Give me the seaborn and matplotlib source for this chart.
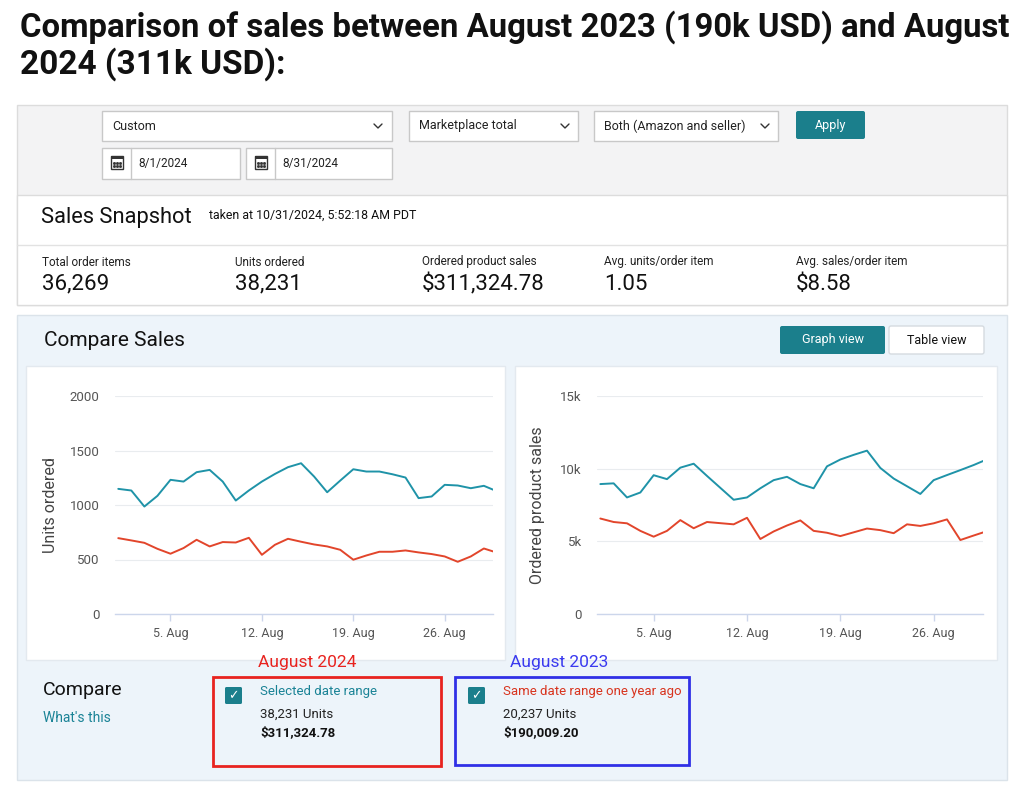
import pandas as pd
import numpy as np
import matplotlib
matplotlib.use("Agg")
import matplotlib.pyplot as plt
import matplotlib.dates as mdates
from matplotlib.patches import Rectangle, FancyBboxPatch
from matplotlib.ticker import FuncFormatter
import seaborn as sns

# data (daily values, 1-30 Aug)
days = pd.date_range("2024-08-01", periods=30, freq="D")
units_2024 = [1148, 1133, 986, 1084, 1231, 1215, 1301, 1322, 1215, 1041,
              1133, 1215, 1285, 1347, 1383, 1261, 1117, 1224, 1328, 1307,
              1307, 1282, 1252, 1063, 1078, 1185, 1179, 1154, 1176, 1126]
units_2023 = [696, 675, 653, 598, 553, 605, 681, 620, 660, 656,
              699, 543, 635, 690, 663, 638, 620, 589, 498, 537,
              571, 571, 583, 565, 550, 528, 479, 528, 601, 563]
sales_2024 = [8940, 8990, 8020, 8360, 9550, 9280, 10070, 10340, 9500, 8680,
              7860, 8020, 8650, 9210, 9440, 8940, 8650, 10160, 10630, 10950,
              11240, 10050, 9320, 8790, 8260, 9210, 9560, 9900, 10250, 10640]
sales_2023 = [6570, 6330, 6240, 5720, 5320, 5720, 6460, 5900, 6330, 6250,
              6170, 6620, 5160, 5680, 6090, 6440, 5720, 5590, 5360, 5620,
              5880, 5770, 5560, 6170, 6060, 6240, 6510, 5090, 5400, 5700]
tick_days = ["2024-08-05", "2024-08-12", "2024-08-19", "2024-08-26"]
tick_labels = ["5. Aug", "12. Aug", "19. Aug", "26. Aug"]
units_ticks = [0, 500, 1000, 1500, 2000]
sales_ticks = [0, 5000, 10000, 15000]

metric_labels = ["Total order items", "Units ordered", "Ordered product sales",
                 "Avg. units/order item", "Avg. sales/order item"]
metric_values = ["36,269", "38,231", "$311,324.78", "1.05", "$8.58"]

TEAL = "#1f93a8"
RED = "#e2452b"
BTN = "#1b7f8c"

sns.set_theme(style="white")
plt.rcParams["font.family"] = ["Roboto", "DejaVu Sans"]

W, H = 1024, 795
fig = plt.figure(figsize=(W / 100, H / 100), dpi=100)
fig.patch.set_facecolor("white")
bg = fig.add_axes([0, 0, 1, 1], zorder=0)
bg.set_xlim(0, W)
bg.set_ylim(H, 0)
bg.axis("off")
renderer = fig.canvas.get_renderer()


def box(x0, y0, x1, y1, fc, ec="none", lw=1.0, r=0, z=1):
    if r:
        p = FancyBboxPatch((x0, y0), x1 - x0, y1 - y0,
                           boxstyle=f"round,pad=0,rounding_size={r}",
                           fc=fc, ec=ec, lw=lw, zorder=z)
    else:
        p = Rectangle((x0, y0), x1 - x0, y1 - y0, fc=fc, ec=ec, lw=lw, zorder=z)
    bg.add_patch(p)


def txt(x, y, s, size, color="#111111", weight="normal", ha="left", fit=None, z=5):
    t = bg.text(x, y, s, fontsize=size, color=color, weight=weight,
                ha=ha, va="center", zorder=z)
    if fit:
        w = t.get_window_extent(renderer).width
        t.set_fontsize(size * fit / w)
    return t


def chevron(x, y):
    bg.plot([x - 4, x, x + 4], [y - 2, y + 2, y - 2], color="#333333", lw=1.0, zorder=5)


def calendar(x, y):
    box(x - 6, y - 6, x + 6, y + 7, "white", "#333333", lw=1.0, z=5)
    box(x - 6, y - 6, x + 6, y - 3, "#333333", z=5)
    for dx in (-3, 0, 3):
        for dy in (1, 4):
            bg.plot(x + dx, y + dy, "s", ms=1.0, color="#333333", zorder=6)


# title
txt(20, 27, "Comparison of sales between August 2023 (190k USD) and August",
    20, weight="bold", fit=985)
txt(20, 64, "2024 (311k USD):", 20, weight="bold", fit=265)

# filter panel + snapshot
box(17, 105, 1007, 305, "#f3f3f4", "#dcdcdc", lw=1.0, z=1)
box(17, 195, 1007, 305, "white", "#dcdcdc", lw=1.0, z=1)
bg.plot([17, 1007], [245, 245], color="#e2e2e2", lw=1.0, zorder=2)

for (x0, x1, label, cx) in [(102, 392, "Custom", 378),
                            (409, 578, "Marketplace total", 565),
                            (594, 778, "Both (Amazon and seller)", 765)]:
    box(x0, 111, x1, 141, "white", "#c8c8c8", lw=1.0, z=2)
    txt(x0 + 10, 126, label, 9, color="#222222")
    chevron(cx, 126)
box(796, 111, 865, 139, BTN, r=2, z=2)
txt(830.5, 125, "Apply", 9, color="white", ha="center")

for (x0, x1, label) in [(102, 240, "8/1/2024"), (246, 392, "8/31/2024")]:
    box(x0, 148, x1, 179, "white", "#c8c8c8", lw=1.0, z=2)
    bg.plot([x0 + 29, x0 + 29], [148, 179], color="#c8c8c8", lw=1.0, zorder=3)
    calendar(x0 + 15, 162)
    txt(x0 + 36, 163, label, 8.5, color="#222222")

txt(41, 218, "Sales Snapshot", 14, color="#111111", fit=152)
txt(209, 215, "taken at 10/31/2024, 5:52:18 AM PDT", 8, color="#111111", fit=208)

metric_x = [42, 235, 422, 604, 796]
for mx, lab, val in zip(metric_x, metric_labels, metric_values):
    txt(mx, 262, lab, 8.5, color="#222222")
    txt(mx, 284, val, 16, color="#111111")

# compare sales panel
box(17, 315, 1007, 780, "#edf4fa", "#dbe3ea", lw=1.0, z=1)
txt(44, 340, "Compare Sales", 14, color="#111111", fit=142)
box(780, 326, 885, 354, BTN, r=2, z=2)
txt(832.5, 340, "Graph view", 9, color="white", ha="center")
box(889, 326, 984, 354, "white", "#d5dbe0", lw=1.0, r=2, z=2)
txt(936.5, 340, "Table view", 9, color="#111111", ha="center")

box(26, 366, 505, 660, "white", "#e3e9ef", lw=1.0, z=2)
box(515, 366, 997, 660, "white", "#e3e9ef", lw=1.0, z=2)


def px_axes(x0, y0, x1, y1):
    return fig.add_axes([x0 / W, 1 - y1 / H, (x1 - x0) / W, (y1 - y0) / H], zorder=3)


xlim = (mdates.date2num(pd.Timestamp("2024-08-01")) - 0.25,
        mdates.date2num(pd.Timestamp("2024-08-01")) + 28.7)

charts = [
    (px_axes(115, 396, 493, 614), units_2024, units_2023, units_ticks,
     "Units ordered", lambda v, p: f"{int(v)}", -0.151),
    (px_axes(597, 396, 983, 614), sales_2024, sales_2023, sales_ticks,
     "Ordered product sales", lambda v, p: "0" if v == 0 else f"{int(v / 1000)}k", -0.135),
]

for ax, cur, prev, yt, ylab, fmt, lx in charts:
    df = pd.DataFrame({"date": list(days) * 2,
                       "value": cur + prev,
                       "period": ["Selected"] * len(days) + ["Year ago"] * len(days)})
    sns.lineplot(data=df, x="date", y="value", hue="period",
                 palette={"Selected": TEAL, "Year ago": RED},
                 linewidth=1.4, legend=False, ax=ax)
    ax.set_facecolor("none")
    ax.set_xlim(*xlim)
    ax.set_ylim(yt[0], yt[-1])
    ax.set_yticks(yt)
    ax.yaxis.set_major_formatter(FuncFormatter(fmt))
    ax.set_xticks([mdates.date2num(pd.Timestamp(d)) for d in tick_days])
    ax.set_xticklabels(tick_labels)
    ax.yaxis.grid(True, color="#e9ecef", lw=0.8)
    ax.xaxis.grid(False)
    for s in ("top", "right", "left"):
        ax.spines[s].set_visible(False)
    ax.spines["bottom"].set_color("#ccd6eb")
    ax.spines["bottom"].set_linewidth(1.0)
    ax.tick_params(axis="x", length=5, width=1, color="#ccd6eb", pad=4,
                   labelsize=9, labelcolor="#555555", direction="out", bottom=True)
    ax.tick_params(axis="y", length=0, pad=11, labelsize=9.5, labelcolor="#555555")
    ax.set_xlabel("")
    ax.set_ylabel(ylab, fontsize=11.5, color="#444444")
    ax.yaxis.set_label_coords(lx, 0.5)

# compare section
txt(43, 690, "Compare", 14, color="#111111")
txt(43, 718, "What's this", 10, color="#1a8396")

txt(258, 663, "August 2024", 12.5, color="#e8231f")
txt(510, 663, "August 2023", 12.5, color="#3a3aef")
box(213, 677, 441, 766, "none", "#e8231f", lw=2.0, z=4)
box(455, 677, 689, 765, "none", "#3030e6", lw=2.0, z=4)

for cx, head, hcol, units, money in [
        (225, "Selected date range", "#1a8396", "38,231 Units", "$311,324.78"),
        (468, "Same date range one year ago", "#d8341e", "20,237 Units", "$190,009.20")]:
    box(cx, 687, cx + 17, 704, BTN, r=1.5, z=4)
    bg.text(cx + 8.5, 696, "\u2713", fontsize=9, color="white", ha="center",
            va="center", family="DejaVu Sans", weight="bold", zorder=6)
    txt(cx + 35, 692, head, 9.5, color=hcol)
    txt(cx + 35, 714, units, 9.5, color="#222222")
    txt(cx + 35, 733, money, 9.5, color="#111111", weight="bold")

fig.savefig("out.png", dpi=100, facecolor="white")
